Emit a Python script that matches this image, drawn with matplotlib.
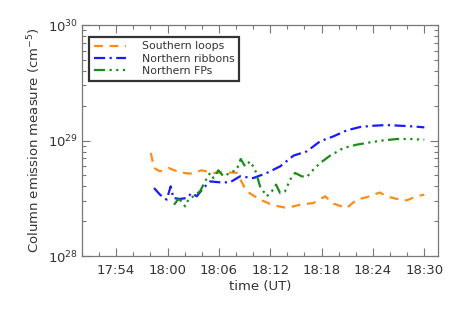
import numpy as np
import matplotlib
matplotlib.use("Agg")
import matplotlib.pyplot as plt
from matplotlib.ticker import LogLocator, NullFormatter, MultipleLocator

# time in minutes after 18:00 UT
t_south = [-1.95, -1.58, -0.88, 0.1, 1.46, 2.63, 3.99, 5.36, 6.92, 8.08, 9.25, 10.81,
           12.37, 13.93, 15.49, 17.04, 18.41, 19.38, 20.94, 22.1, 23.3, 24.8, 25.6,
           26.8, 27.96, 29.1, 30.0]
log_south = [28.892, 28.762, 28.733, 28.762, 28.724, 28.713, 28.742, 28.72, 28.724, 28.72,
             28.56, 28.488, 28.439, 28.416, 28.444, 28.459, 28.517, 28.453, 28.416, 28.488,
             28.51, 28.55, 28.517, 28.494, 28.482, 28.517, 28.531]

t_ribbon = [-1.58, -0.88, -0.1, 0.37, 0.68, 1.46, 2.24, 2.82, 3.41, 4.19, 4.97, 6.14, 7.3,
            8.47, 10.03, 11.59, 13.15, 14.71, 16.27, 17.82, 19.38, 20.94, 22.5, 24.05,
            25.6, 27.2, 28.7, 30.0]
log_ribbon = [28.589, 28.531, 28.488, 28.603, 28.502, 28.494, 28.502, 28.545, 28.517, 28.589,
              28.646, 28.638, 28.638, 28.69, 28.675, 28.719, 28.776, 28.869, 28.906, 28.993,
              29.036, 29.088, 29.117, 29.128, 29.134, 29.128, 29.122, 29.114]

t_fp = [0.76, 1.27, 1.66, 2.05, 2.44, 3.02, 3.8, 4.38, 4.97, 5.36, 5.94, 6.53, 7.3, 8.08,
        8.55, 9.06, 9.64, 10.23, 10.81, 11.59, 12.18, 12.68, 13.15, 13.73, 14.32, 14.9,
        15.68, 16.27, 17.04, 17.82, 19.0, 20.55, 22.1, 23.66, 25.2, 26.8, 28.3, 30.0]
log_fp = [28.444, 28.494, 28.473, 28.43, 28.488, 28.517, 28.56, 28.646, 28.719, 28.675,
          28.742, 28.69, 28.719, 28.748, 28.84, 28.776, 28.82, 28.748, 28.603, 28.517,
          28.56, 28.618, 28.545, 28.56, 28.661, 28.719, 28.69, 28.684, 28.748, 28.805,
          28.869, 28.935, 28.964, 28.984, 29.001, 29.013, 29.013, 29.007]

tick_pos = [-6, 0, 6, 12, 18, 24, 30]
tick_labels = ["17:54", "18:00", "18:06", "18:12", "18:18", "18:24", "18:30"]
series_names = ["Southern loops", "Northern ribbons", "Northern FPs"]

plt.rcParams['font.family'] = ['DejaVu Sans']
fig = plt.figure(figsize=(4.63, 3.09), dpi=100)
ax = fig.add_axes([0.177, 0.1715, 0.769, 0.7475])

txtc = '#333333'
ax.plot(t_south, 10 ** np.array(log_south), color='#ff8c1a', lw=1.6,
        linestyle=(0, (4, 3)), label=series_names[0])
ax.plot(t_ribbon, 10 ** np.array(log_ribbon), color='#1a1aff', lw=1.6,
        linestyle=(0, (5, 2, 1, 2)), label=series_names[1])
ax.plot(t_fp, 10 ** np.array(log_fp), color='#1a8c1a', lw=1.6,
        linestyle=(0, (5, 2, 1, 2, 1, 2, 1, 2)), label=series_names[2])

ax.set_yscale('log')
ax.set_ylim(1e28, 1e30)
ax.set_xlim(-10, 31.6)
ax.set_xticks(tick_pos)
ax.set_xticklabels(tick_labels)
ax.xaxis.set_minor_locator(MultipleLocator(2))
ax.yaxis.set_minor_locator(LogLocator(base=10, subs=np.arange(2, 10)))
ax.yaxis.set_minor_formatter(NullFormatter())

ax.tick_params(which='both', direction='in', top=True, right=True, colors='#777777',
               labelcolor=txtc, labelsize=9.5)
ax.tick_params(which='major', length=6, width=0.8)
ax.tick_params(which='minor', length=3, width=0.8)
ax.tick_params(axis='x', which='major', pad=6)
ax.tick_params(axis='y', which='major', pad=3)
for s in ax.spines.values():
    s.set_color('#777777')
    s.set_linewidth(0.9)

ax.set_xlabel('time (UT)', fontsize=9.5, color=txtc, labelpad=2)
ax.set_ylabel('Column emission measure (cm$^{-5}$)', fontsize=9.5, color=txtc, labelpad=3)

leg = ax.legend(loc='upper left', bbox_to_anchor=(0.02, 0.95), fontsize=7.8,
                frameon=True, fancybox=False, handlelength=3.0, handletextpad=1.4,
                borderpad=0.45, labelspacing=0.2, borderaxespad=0)
leg.get_frame().set_edgecolor('black')
leg.get_frame().set_linewidth(1.6)
for t in leg.get_texts():
    t.set_color(txtc)

fig.savefig('out.png', dpi=100)
